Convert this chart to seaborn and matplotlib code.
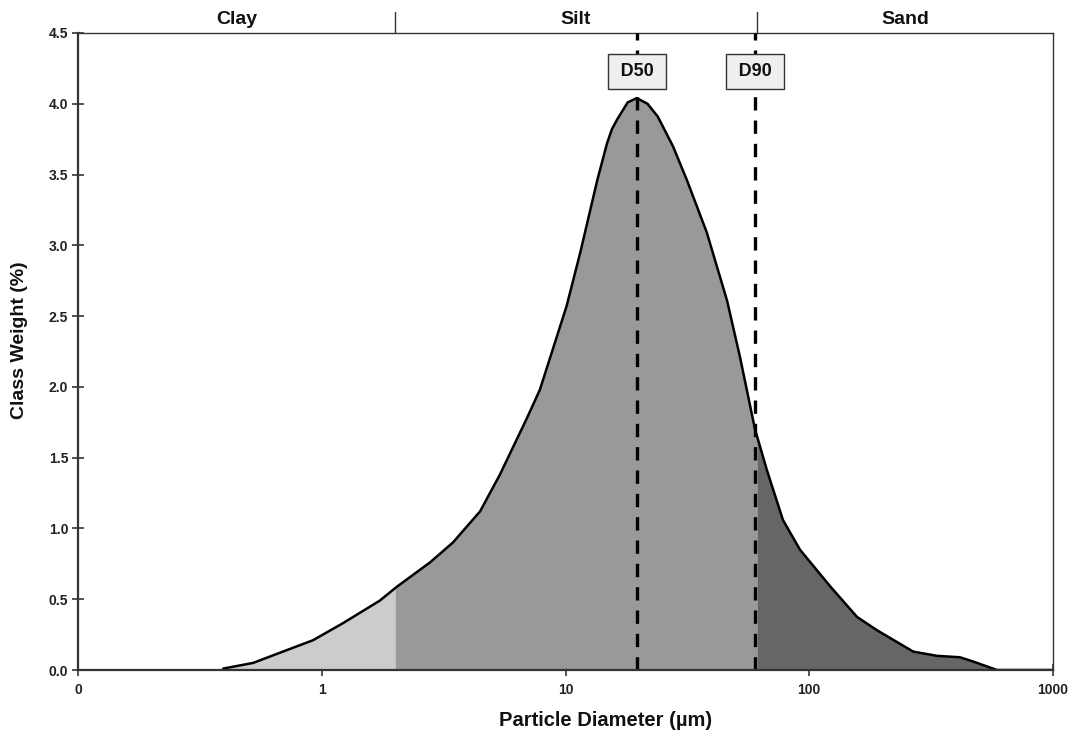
import numpy as np
import pandas as pd
import matplotlib
matplotlib.use("Agg")
import matplotlib.pyplot as plt
import matplotlib.transforms as mtransforms
import seaborn as sns

# ---- data ----
diameter_um = [0.394, 0.523, 0.693, 0.920, 1.22, 1.73, 2.04, 2.78, 3.45, 4.46, 5.38,
               6.95, 7.85, 10.1, 11.5, 13.5, 14.8, 15.5, 16.3, 18.0, 19.6, 21.7, 23.9,
               27.6, 31.5, 38.0, 46.0, 52.0, 59.9, 67.1, 78.0, 91.6, 122, 157, 190,
               267, 334, 415, 470, 589, 1000]
class_weight = [0.01, 0.05, 0.13, 0.21, 0.33, 0.49, 0.59, 0.76, 0.90, 1.12, 1.38,
                1.78, 1.98, 2.57, 2.95, 3.46, 3.72, 3.82, 3.89, 4.01, 4.04, 4.00, 3.91,
                3.70, 3.46, 3.09, 2.61, 2.21, 1.70, 1.41, 1.06, 0.85, 0.59, 0.375, 0.28,
                0.13, 0.10, 0.09, 0.06, 0.0, 0.0]

class_names = ["Clay", "Silt", "Sand"]
class_bounds = [0.1, 2.0, 61.0, 1000.0]
class_colors = ["#cccccc", "#999999", "#666666"]

marker_names = ["D50", "D90"]
marker_values = [19.6, 59.9]

x_ticks = [0.1, 1, 10, 100, 1000]
x_tick_labels = ["0", "1", "10", "100", "1000"]
y_ticks = [0.0, 0.5, 1.0, 1.5, 2.0, 2.5, 3.0, 3.5, 4.0, 4.5]

df = pd.DataFrame({"diameter": diameter_um, "weight": class_weight})

sns.set_theme(style="white")
plt.rcParams["font.family"] = ["Liberation Sans", "DejaVu Sans"]
plt.rcParams["font.weight"] = "bold"

fig = plt.figure(figsize=(10.76, 7.36), dpi=100)
ax = fig.add_axes([78 / 1076, 1 - 670 / 736, (1053 - 78) / 1076, (670 - 33) / 736])

# fills per class
logd = np.log10(df["diameter"].values)
w = df["weight"].values
for lo, hi, col in zip(class_bounds[:-1], class_bounds[1:], class_colors):
    lo_c = max(lo, df["diameter"].min())
    hi_c = min(hi, df["diameter"].max())
    if hi_c <= lo_c:
        continue
    inner = df[(df["diameter"] > lo_c) & (df["diameter"] < hi_c)]
    xs = np.concatenate([[lo_c], inner["diameter"].values, [hi_c]])
    ys = np.concatenate([[np.interp(np.log10(lo_c), logd, w)], inner["weight"].values,
                         [np.interp(np.log10(hi_c), logd, w)]])
    ax.fill_between(xs, 0, ys, color=col, linewidth=0, zorder=1)

sns.lineplot(data=df, x="diameter", y="weight", ax=ax, color="black", linewidth=1.8,
             zorder=3, estimator=None, sort=True)

ax.set_xscale("log")
ax.set_xlim(0.1, 1000)
ax.set_ylim(0, 4.5)

# marker lines & labels
for name, val in zip(marker_names, marker_values):
    ax.axvline(val, color="black", linewidth=2.4, linestyle=(0, (4, 3)), zorder=4)
    ax.text(val, 4.225, "\u2009" + name + "\u2009", ha="center", va="center",
            fontsize=13, fontweight="bold", color="#111111", zorder=5,
            bbox=dict(boxstyle="square,pad=0.5", facecolor="#efefef",
                      edgecolor="#333333", linewidth=1.0))

# top class band
trans = mtransforms.blended_transform_factory(ax.transData, ax.transAxes)
for b in class_bounds[1:-1]:
    ax.plot([b, b], [1.0, 1.033], transform=trans, color="#333333", linewidth=1.0,
            clip_on=False)
for name, lo, hi in zip(class_names, class_bounds[:-1], class_bounds[1:]):
    mid = 10 ** ((np.log10(lo) + np.log10(hi)) / 2)
    ax.text(mid, 1.021, name, transform=trans, ha="center", va="center",
            fontsize=14, fontweight="bold", color="#111111")

# axes styling
ax.set_xticks(x_ticks)
ax.set_xticklabels(x_tick_labels)
ax.xaxis.set_minor_locator(matplotlib.ticker.NullLocator())
ax.set_yticks(y_ticks)
ax.set_yticklabels([f"{v:.1f}" for v in y_ticks])
ax.tick_params(axis="both", direction="inout", length=8, width=1.2, color="#333333",
               labelsize=10, labelcolor="#222222", bottom=True, left=True)
ax.tick_params(axis="x", pad=5)
ax.tick_params(axis="y", pad=3)
for lab in ax.get_xticklabels() + ax.get_yticklabels():
    lab.set_fontweight("bold")

for side in ["left", "bottom"]:
    ax.spines[side].set_color("#333333")
    ax.spines[side].set_linewidth(1.6)
for side in ["top", "right"]:
    ax.spines[side].set_color("#333333")
    ax.spines[side].set_linewidth(1.0)
ax.spines["left"].set_zorder(6)
ax.spines["bottom"].set_zorder(6)

ax.set_xlabel("Particle Diameter (µm)", fontsize=14.5, fontweight="bold", color="#111111")
ax.set_ylabel("Class Weight (%)", fontsize=14, fontweight="bold", color="#111111")
ax.xaxis.label.set_va("center")
ax.yaxis.label.set_va("center")
ax.xaxis.set_label_coords((606 - 78) / 975, (670 - 721) / 637)
ax.yaxis.set_label_coords((20 - 78) / 975, (670 - 340) / 637)

fig.savefig("out.png", dpi=100, facecolor="white")
